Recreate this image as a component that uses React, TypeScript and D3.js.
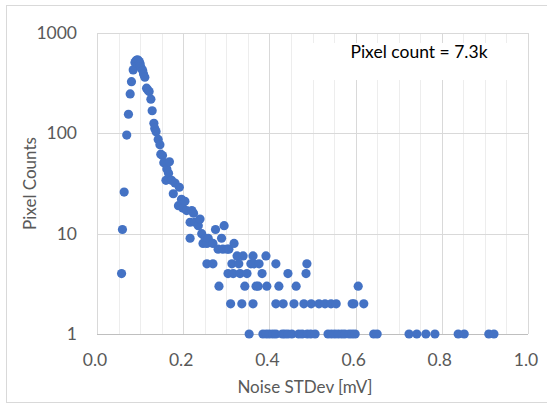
import React from "react";
import * as d3 from "d3";

const noiseStd = [
  0.057, 0.059, 0.063, 0.069, 0.073, 0.077, 0.080, 0.084, 0.088, 0.090, 0.092, 0.094, 0.096, 0.098,
  0.100, 0.101, 0.103, 0.106, 0.108, 0.111, 0.115, 0.118, 0.121, 0.125, 0.128, 0.132, 0.134, 0.137,
  0.142, 0.146, 0.148, 0.152, 0.155, 0.160, 0.162, 0.166, 0.168, 0.173, 0.177, 0.181, 0.189, 0.191,
  0.196, 0.199, 0.204, 0.208, 0.216, 0.216, 0.220, 0.224, 0.227, 0.235, 0.239, 0.243, 0.246, 0.251,
  0.255, 0.258, 0.255, 0.269, 0.269, 0.275, 0.281, 0.283, 0.289, 0.292, 0.295, 0.302, 0.304, 0.306,
  0.310, 0.313, 0.316, 0.318, 0.325, 0.329, 0.332, 0.336, 0.339, 0.343, 0.348, 0.353, 0.357, 0.362,
  0.362, 0.364, 0.369, 0.374, 0.376, 0.383, 0.385, 0.392, 0.393, 0.394, 0.400, 0.408, 0.415, 0.415,
  0.415, 0.422, 0.430, 0.432, 0.436, 0.443, 0.443, 0.452, 0.457, 0.462, 0.468, 0.476, 0.480, 0.485,
  0.487, 0.488, 0.496, 0.497, 0.506, 0.515, 0.529, 0.536, 0.543, 0.544, 0.552, 0.555, 0.560, 0.568,
  0.575, 0.585, 0.592, 0.592, 0.596, 0.599, 0.606, 0.619, 0.642, 0.650, 0.724, 0.742, 0.763, 0.784,
  0.838, 0.852, 0.909, 0.921,
];
const pixelCounts = [
  4, 11, 26, 96, 155, 247, 327, 429, 507, 525, 535, 540, 530, 519,
  495, 462, 445, 422, 390, 363, 282, 270, 261, 219, 168, 126, 112, 104,
  87, 77, 62, 60, 51, 34, 44, 40, 52, 34, 25, 32, 19, 29,
  22, 18, 21, 17, 13, 9, 17, 16, 13, 12, 14, 10, 8, 9,
  8, 9, 5, 5, 8, 11, 7, 3, 9, 7, 12, 7, 4, 7,
  2, 5, 4, 8, 6, 5, 4, 2, 6, 3, 4, 1, 5, 2,
  6, 5, 3, 3, 5, 4, 1, 6, 1, 3, 1, 1, 2, 5,
  1, 3, 1, 2, 1, 4, 1, 1, 2, 3, 1, 1, 2, 4,
  5, 1, 1, 2, 1, 2, 2, 1, 2, 1, 1, 2, 1, 1,
  1, 1, 2, 1, 2, 1, 3, 2, 1, 1, 1, 1, 1, 1,
  1, 1, 1, 1,
];
const xTicks = [0, 0.2, 0.4, 0.6, 0.8, 1.0];
const yTicks = [1, 10, 100, 1000];
const annotation = "Pixel count = 7.3k";
const xTitle = "Noise STDev [mV]";
const yTitle = "Pixel Counts";

const W = 547;
const H = 404;
const L = 97;
const R = 528;
const T = 33;
const B = 334;
const FONT = "Lato, 'Liberation Sans', sans-serif";
const TXT = "#595959";

export default function App() {
  const x = d3.scaleLinear().domain([0, 1]).range([L, R]);
  const y = d3.scaleLog().domain([1, 1000]).range([B, T]);
  const minor = d3.range(0, 1.0001, 0.05);
  const fmt = d3.format(".1f");

  return (
    <div style={{ position: "fixed", left: 0, top: 0 }}>
      <svg width={W} height={H} style={{ display: "block" }}>
        <rect x={0} y={0} width={W} height={H} fill="#ffffff" />
        <rect x={6.5} y={5.5} width={W} height={397} fill="none" stroke="#d9d9d9" />
        {minor.map((v, i) => (
          <line key={"m" + i} x1={Math.round(x(v)) + 0.5} x2={Math.round(x(v)) + 0.5} y1={T} y2={B}
            stroke={i % 4 === 0 ? "#d9d9d9" : "#ededed"} strokeWidth={1} />
        ))}
        {yTicks.map((t) => (
          <line key={"h" + t} x1={L} x2={R} y1={Math.round(y(t)) + 0.5} y2={Math.round(y(t)) + 0.5}
            stroke={t === 1 ? "#bfbfbf" : "#d9d9d9"} strokeWidth={1} />
        ))}
        <rect x={300} y={43} width={226} height={37} fill="#ffffff" />
        <text x={419} y={58} textAnchor="middle" fontFamily={FONT} fontSize={17.5} fill="#000">
          {annotation}
        </text>
        {noiseStd.map((v, i) => (
          <circle key={"p" + i} cx={x(v)} cy={y(pixelCounts[i])} r={4.6} fill="#4472C4" />
        ))}
        {yTicks.map((t) => (
          <text key={"yl" + t} x={77} y={y(t)} dy="0.35em" textAnchor="end" fontFamily={FONT}
            fontSize={17.5} fill={TXT}>
            {t}
          </text>
        ))}
        {xTicks.map((t) => (
          <text key={"xl" + t} x={x(t) - 2} y={366} textAnchor="middle" fontFamily={FONT}
            fontSize={17.5} fill={TXT}>
            {fmt(t)}
          </text>
        ))}
        <text x={305} y={393} textAnchor="middle" fontFamily={FONT} fontSize={17} fill={TXT}>
          {xTitle}
        </text>
        <text transform={`translate(36,${(T + B) / 2}) rotate(-90)`} textAnchor="middle"
          fontFamily={FONT} fontSize={17} fill={TXT}>
          {yTitle}
        </text>
      </svg>
    </div>
  );
}
